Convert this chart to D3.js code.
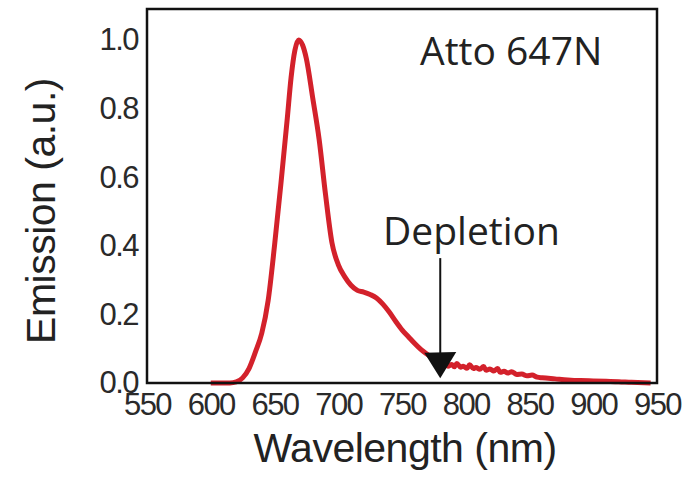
<!DOCTYPE html>
<html>
<head>
<meta charset="utf-8">
<script src="https://cdn.jsdelivr.net/npm/d3@7"></script>
<style>
  body { margin: 0; background: #fff; }
  svg { display: block; }
</style>
</head>
<body>
<div id="chart"></div>
<script>
// emission spectrum
var wavelength = [600, 605, 610, 615, 620, 625, 630, 635, 640, 645, 650, 655, 660, 663, 666, 669, 672, 675, 680, 685, 690, 695, 700, 705, 710, 715, 720, 725, 730, 735, 740, 745, 750, 755, 760, 765, 770, 775, 780,
  782, 784, 786, 789, 791, 793, 796, 798, 801, 803, 806, 808, 811, 814, 816, 819, 822, 825, 827, 830, 833, 836, 840, 844, 848, 852, 856, 860, 870, 880, 890, 900, 910, 920, 930, 940, 945];
var emission = [0.0, 0.0, 0.0, 0.0, 0.003, 0.015, 0.042, 0.09, 0.145, 0.24, 0.40, 0.58, 0.77, 0.89, 0.97, 1.0, 0.985, 0.945, 0.83, 0.71, 0.55, 0.41, 0.345, 0.31, 0.285, 0.27, 0.265, 0.258, 0.248, 0.23, 0.207, 0.18, 0.155, 0.135, 0.115, 0.097, 0.083, 0.07, 0.058,
  0.052, 0.058, 0.049, 0.054, 0.047, 0.057, 0.046, 0.049, 0.043, 0.053, 0.042, 0.045, 0.04, 0.048, 0.037, 0.041, 0.035, 0.042, 0.031, 0.034, 0.029, 0.033, 0.025, 0.026, 0.021, 0.023, 0.017, 0.015, 0.012, 0.009, 0.007, 0.006, 0.005, 0.004, 0.002, 0.001, 0.0];
var xTicks = [550, 600, 650, 700, 750, 800, 850, 900, 950];
var yTicks = [0.0, 0.2, 0.4, 0.6, 0.8, 1.0];
var depletion = 780;

var width = 684, height = 486;
var margin = {top: 9, right: 27, bottom: 103, left: 147};
var w = width - margin.left - margin.right;
var h = height - margin.top - margin.bottom;

var x = d3.scaleLinear().domain([550, 950]).range([0, w]);
var y = d3.scaleLinear().domain([0, 1.09]).range([h, 0]);

var svg = d3.select('#chart')
    .append('svg')
    .attr('width', width)
    .attr('height', height)
    .append('g')
    .attr('transform', 'translate(' + margin.left + ',' + margin.top + ')');

var numFont = "'Liberation Sans', Arial, sans-serif";

var xAxis = svg.append('g')
    .attr('transform', 'translate(0,' + h + ')')
    .call(d3.axisBottom(x).tickValues(xTicks).tickSize(0).tickPadding(10));
var yAxis = svg.append('g')
    .call(d3.axisLeft(y).tickValues(yTicks).tickSize(0).tickPadding(9).tickFormat(d3.format('.1f')));

[xAxis, yAxis].forEach(function(a){
  a.select('.domain').remove();
  a.selectAll('text')
    .style('font-family', numFont)
    .style('font-size', '31px')
    .style('letter-spacing', '-1.5px')
    .style('fill', '#2a2a2a');
});

var pts = wavelength.map(function(d, i){ return [d, emission[i]]; });

var line = d3.line()
    .x(function(d){ return x(d[0]); })
    .y(function(d){ return y(d[1]); })
    .curve(d3.curveMonotoneX);

svg.append('path')
    .datum(pts)
    .attr('d', line)
    .attr('fill', 'none')
    .attr('stroke', '#d3212b')
    .attr('stroke-width', 5)
    .attr('stroke-linejoin', 'round');

// frame
svg.append('rect')
    .attr('width', w)
    .attr('height', h)
    .attr('fill', 'none')
    .attr('stroke', '#111')
    .attr('stroke-width', 2.5);

// depletion arrow
var ax = x(depletion);
svg.append('line')
    .attr('x1', ax).attr('x2', ax)
    .attr('y1', y(0.364)).attr('y2', y(0.05))
    .attr('stroke', '#111')
    .attr('stroke-width', 2);
svg.append('path')
    .attr('d', 'M' + (ax - 16) + ',' + y(0.088) + 'L' + (ax + 16) + ',' + y(0.09) + 'L' + ax + ',' + y(0.014) + 'Z')
    .attr('fill', '#111');

svg.append('text')
    .attr('x', 383 - margin.left)
    .attr('y', 245 - margin.top)
    .style('font-family', "'Open Sans', sans-serif")
    .style('font-size', '39px')
    .style('fill', '#222')
    .text('Depletion');

svg.append('text')
    .attr('x', 420 - margin.left)
    .attr('y', 65 - margin.top)
    .style('font-family', "'Open Sans', sans-serif")
    .style('font-size', '39px')
    .style('fill', '#222')
    .text('Atto 647N');

// axis titles
svg.append('text')
    .attr('x', 405 - margin.left)
    .attr('y', 462 - margin.top)
    .attr('text-anchor', 'middle')
    .style('font-family', numFont)
    .style('font-size', '41px')
    .style('letter-spacing', '-0.5px')
    .style('fill', '#222')
    .text('Wavelength (nm)');

svg.append('text')
    .attr('transform', 'translate(' + (55 - margin.left) + ',' + (211 - margin.top) + ') rotate(-90)')
    .attr('text-anchor', 'middle')
    .style('font-family', numFont)
    .style('font-size', '41px')
    .style('letter-spacing', '-0.5px')
    .style('fill', '#222')
    .text('Emission (a.u.)');
</script>
</body>
</html>
